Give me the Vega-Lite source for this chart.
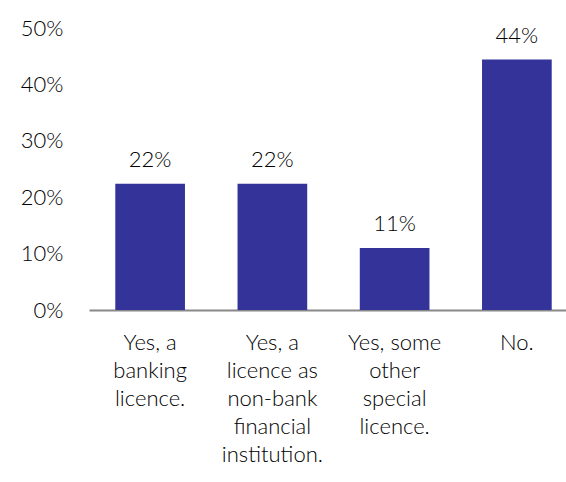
{
  "$schema": "https://vega.github.io/schema/vega-lite/v6.json",
  "width": 489,
  "height": 282,
  "autosize": {"type": "none"},
  "padding": {"left": 89, "top": 28, "right": 0, "bottom": 172},
  "background": "white",
  "config": {
    "view": {"stroke": null},
    "font": "Lato",
    "text": {"font": "Lato"}
  },
  "data": {
    "values": [
      {"answer": "Yes, a|banking|licence.", "share": 0.224},
      {"answer": "Yes, a|licence as|non-bank|financial|institution.", "share": 0.224},
      {"answer": "Yes, some|other|special|licence.", "share": 0.11},
      {"answer": "No.", "share": 0.444}
    ]
  },
  "encoding": {
    "x": {
      "field": "answer",
      "type": "nominal",
      "sort": null,
      "scale": {"paddingInner": 0.43, "paddingOuter": 0.215},
      "axis": {
        "title": null,
        "labelAngle": 0,
        "labelExpr": "split(datum.label, '|')",
        "labelFontSize": 22,
        "labelFontWeight": 300,
        "labelColor": "#000000",
        "labelLineHeight": 28,
        "labelPadding": 22,
        "labelBaseline": "top",
        "ticks": false,
        "domainColor": "#888888",
        "domainWidth": 2,
        "labelLimit": 200
      }
    },
    "y": {
      "field": "share",
      "type": "quantitative",
      "scale": {"domain": [0, 0.5]},
      "axis": {
        "title": null,
        "format": ".0%",
        "values": [0, 0.1, 0.2, 0.3, 0.4, 0.5],
        "grid": false,
        "domain": false,
        "ticks": false,
        "labelFontSize": 22,
        "labelFontWeight": 300,
        "labelColor": "#000000",
        "labelPadding": 26
      }
    }
  },
  "layer": [
    {"mark": {"type": "bar", "color": "#333399"}},
    {
      "mark": {"type": "text", "baseline": "alphabetic", "dy": -17, "fontSize": 22, "fontWeight": 300, "color": "#000000"},
      "encoding": {"text": {"field": "share", "type": "quantitative", "format": ".0%"}}
    }
  ]
}
